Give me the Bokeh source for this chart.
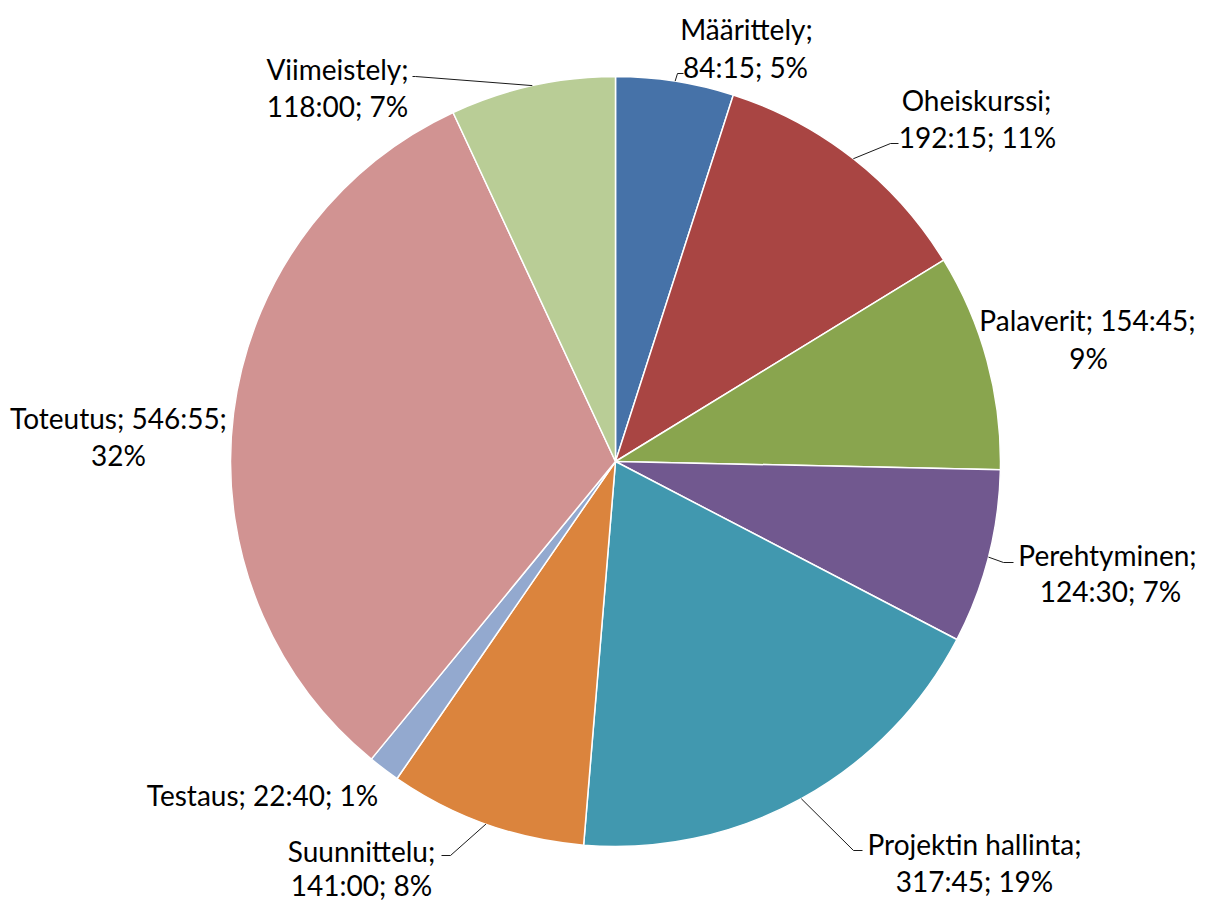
import math
from bokeh.plotting import figure
from bokeh.models import Range1d, ColumnDataSource
from bokeh.core.properties import value
from bokeh.embed import file_html
from bokeh.resources import INLINE

# ---- data ----
categories = ["Määrittely", "Oheiskurssi", "Palaverit", "Perehtyminen",
              "Projektin hallinta", "Suunnittelu", "Testaus", "Toteutus", "Viimeistely"]
hours = [84, 192, 154, 124, 317, 141, 22, 546, 118]
minutes = [15, 15, 45, 30, 45, 0, 40, 55, 0]
colors = ["#4672A8", "#A94543", "#89A54E", "#71588F", "#4198AF",
          "#DB843D", "#93A9CF", "#D19392", "#B9CD96"]

# ---- layout (reference pixel coordinates, y downward) ----
W, H = 1205, 903
CX, CY, R = 615, 461, 385
FONT = "Lato"
FS = "28px"
# label line positions: list of (x, y) per line
label_pos = {
    "Määrittely": [(746, 28), (745, 66)],
    "Oheiskurssi": [(976, 99), (977, 136)],
    "Palaverit": [(1087, 319), (1088, 357)],
    "Perehtyminen": [(1107, 554), (1110, 590)],
    "Projektin hallinta": [(974, 843), (974, 880)],
    "Suunnittelu": [(361, 850), (361, 884)],
    "Testaus": [(262, 794)],
    "Toteutus": [(118, 417), (118, 454)],
    "Viimeistely": [(337, 68), (337, 105)],
}
line_breaks = {  # how the label text is split
    "Palaverit": 2, "Toteutus": 2, "Testaus": 3,
}
leaders = {  # elbow and end points of leader lines
    "Määrittely": [(677, 73), (683, 73)],
    "Oheiskurssi": [(890, 143), (898, 143)],
    "Perehtyminen": [(1003, 562), (1013, 562)],
    "Projektin hallinta": [(853, 850), (862, 850)],
    "Suunnittelu": [(450, 855), (441, 855)],
    "Viimeistely": [(415, 76), (412, 76)],
}

totals = [h * 60 + m for h, m in zip(hours, minutes)]
grand = sum(totals)

p = figure(width=W, height=H, output_backend="svg", toolbar_location=None,
           x_range=Range1d(0, W), y_range=Range1d(-H, 0),
           x_axis_type=None, y_axis_type=None, min_border=0,
           outline_line_color=None)
p.grid.visible = False
p.background_fill_color = "white"
p.border_fill_color = "white"

starts, ends = [], []
cum = 0.0
for t in totals:
    a0 = math.pi / 2 - 2 * math.pi * cum / grand
    cum += t
    a1 = math.pi / 2 - 2 * math.pi * cum / grand
    starts.append(a0)
    ends.append(a1)

src = ColumnDataSource(dict(x=[CX] * len(totals), y=[-CY] * len(totals),
                            start=starts, end=ends, color=colors))
p.wedge(x="x", y="y", radius=R, start_angle="start", end_angle="end",
        direction="clock", fill_color="color", line_color="white",
        line_width=1.5, source=src)

# leader lines
for i, c in enumerate(categories):
    if c not in leaders:
        continue
    mid = (starts[i] + ends[i]) / 2
    x0 = CX + R * math.cos(mid)
    y0 = -CY + R * math.sin(mid)
    pts = [(x0, y0)] + [(x, -y) for x, y in leaders[c]]
    p.line([q[0] for q in pts], [q[1] for q in pts], line_color="#1a1a1a",
           line_width=1)

# labels
tx, ty, tt = [], [], []
for i, c in enumerate(categories):
    pct = round(100 * totals[i] / grand)
    parts = [f"{c};", f"{hours[i]}:{minutes[i]:02d};", f"{pct}%"]
    mode = line_breaks.get(c, 1)
    if mode == 1:
        lines = [parts[0], parts[1] + " " + parts[2]]
    elif mode == 2:
        lines = [parts[0] + " " + parts[1], parts[2]]
    else:
        lines = [" ".join(parts)]
    for (x, y), s in zip(label_pos[c], lines):
        tx.append(x)
        ty.append(-y)
        tt.append(s)

p.text(x=tx, y=ty, text=tt, text_font=value(FONT), text_font_size=FS,
       text_align="center", text_baseline="middle", text_color="#000000")

open("out.html", "w").write(file_html(p, INLINE))
